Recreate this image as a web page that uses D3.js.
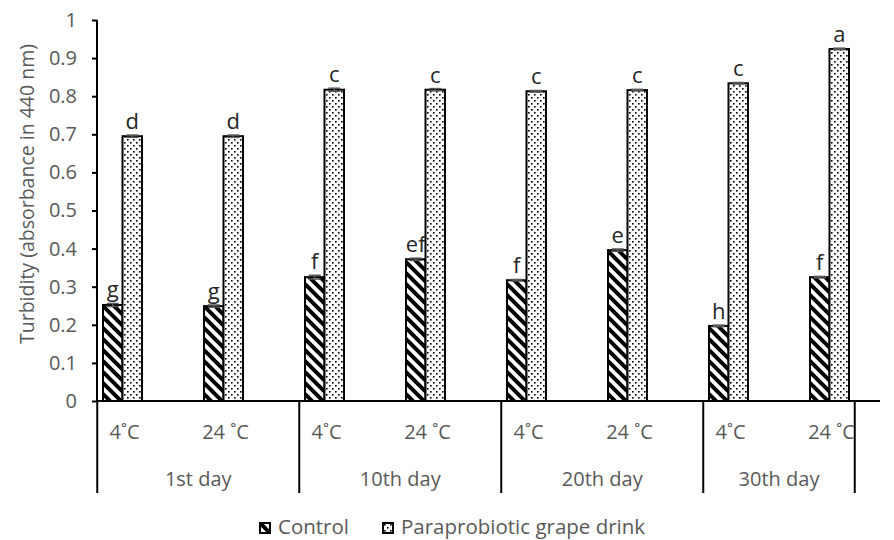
<!DOCTYPE html>
<html>
<head>
<meta charset="utf-8">
<script src="https://cdn.jsdelivr.net/npm/d3@7"></script>
<style>
  body { margin: 0; background: #fff; }
  text { font-family: "Open Sans", sans-serif; }
</style>
</head>
<body>
<div id="chart"></div>
<script>
// data
const days = ["1st day", "10th day", "20th day", "30th day"];
const temps = ["4˚C", "24 ˚C"];
const seriesNames = ["Control", "Paraprobiotic grape drink"];
const controlValues = [0.252, 0.249, 0.325, 0.372, 0.317, 0.396, 0.197, 0.325];
const controlErrors = [0.004, 0.003, 0.005, 0.003, 0.002, 0.003, 0.002, 0.002];
const controlLetters = ["g", "g", "f", "ef", "f", "e", "h", "f"];
const drinkValues = [0.695, 0.695, 0.817, 0.817, 0.813, 0.816, 0.834, 0.924];
const drinkErrors = [0.003, 0.003, 0.004, 0.003, 0.002, 0.002, 0.002, 0.002];
const drinkLetters = ["d", "d", "c", "c", "c", "c", "c", "a"];
const yTickValues = [0, 0.1, 0.2, 0.3, 0.4, 0.5, 0.6, 0.7, 0.8, 0.9, 1];
const yTickLabels = ["0", "0.1", "0.2", "0.3", "0.4", "0.5", "0.6", "0.7", "0.8", "0.9", "1"];

const width = 894, height = 540;
const textGray = "#595959";

// one row per day/temperature cell
const cells = [];
days.forEach((day, i) => {
  temps.forEach((temp, j) => {
    const k = i * 2 + j;
    cells.push({
      key: day + "|" + temp, day, temp,
      values: [
        { series: "control", value: controlValues[k], err: controlErrors[k], letter: controlLetters[k] },
        { series: "drink", value: drinkValues[k], err: drinkErrors[k], letter: drinkLetters[k] }
      ]
    });
  });
});

const svg = d3.select("#chart").append("svg")
  .attr("width", width)
  .attr("height", height);

const defs = svg.append("defs");

// wide diagonal hatch for control
const hatch = defs.append("pattern")
  .attr("id", "hatch")
  .attr("patternUnits", "userSpaceOnUse")
  .attr("width", 11).attr("height", 11);
hatch.append("rect").attr("width", 11).attr("height", 11).attr("fill", "#fff");
hatch.append("path")
  .attr("d", "M-2,-2 L13,13 M-3,8 L3,14 M8,-3 L14,3")
  .attr("stroke", "#000")
  .attr("stroke-width", 4);

// small dots for the drink
const dots = defs.append("pattern")
  .attr("id", "dots")
  .attr("patternUnits", "userSpaceOnUse")
  .attr("width", 6).attr("height", 6);
dots.append("rect").attr("width", 6).attr("height", 6).attr("fill", "#fff");
dots.append("rect").attr("x", 1).attr("y", 1).attr("width", 1.6).attr("height", 1.6).attr("fill", "#000");
dots.append("rect").attr("x", 4).attr("y", 4).attr("width", 1.6).attr("height", 1.6).attr("fill", "#000");

const fills = { control: "url(#hatch)", drink: "url(#dots)" };

// scales
const y = d3.scaleLinear().domain([0, 1]).range([401, 20]);

const x = d3.scaleBand()
  .domain(cells.map(d => d.key))
  .range([72, 880])
  .padding(0);
const step = x.step();

const x1 = d3.scaleBand()
  .domain(["control", "drink"])
  .range([0, step])
  .paddingInner(0)
  .paddingOuter(1.59);

// y axis
const yAxis = d3.axisLeft(y)
  .tickValues(yTickValues)
  .tickFormat((d, i) => yTickLabels[i])
  .tickSize(5)
  .tickPadding(15);

const gy = svg.append("g")
  .attr("transform", "translate(97,0)")
  .call(yAxis);
gy.select(".domain").remove();
gy.selectAll(".tick line").attr("stroke", "#000").attr("stroke-width", 2);
gy.selectAll(".tick text")
  .attr("fill", textGray)
  .style("font-size", "20px");

svg.append("text")
  .attr("transform", "translate(26,194) rotate(-90)")
  .attr("text-anchor", "middle")
  .attr("dominant-baseline", "central")
  .attr("fill", textGray)
  .style("font-size", "19.5px")
  .text("Turbidity (absorbance in 440 nm)");

// bars
const groups = svg.append("g").selectAll("g")
  .data(cells)
  .join("g")
  .attr("transform", d => `translate(${x(d.key)},0)`);

groups.selectAll("rect")
  .data(d => d.values)
  .join("rect")
  .attr("x", d => x1(d.series))
  .attr("y", d => y(d.value))
  .attr("width", x1.bandwidth())
  .attr("height", d => y(0) - y(d.value))
  .attr("fill", d => fills[d.series])
  .attr("stroke", "#000")
  .attr("stroke-width", 2);

// error bars
const eb = groups.selectAll("g.err")
  .data(d => d.values)
  .join("g")
  .attr("class", "err")
  .attr("stroke", textGray)
  .attr("stroke-width", 1.5);
eb.append("line")
  .attr("x1", d => x1(d.series) + x1.bandwidth() / 2)
  .attr("x2", d => x1(d.series) + x1.bandwidth() / 2)
  .attr("y1", d => y(d.value - d.err))
  .attr("y2", d => y(d.value + d.err));
eb.append("line")
  .attr("x1", d => x1(d.series) + x1.bandwidth() / 2 - 6)
  .attr("x2", d => x1(d.series) + x1.bandwidth() / 2 + 6)
  .attr("y1", d => y(d.value + d.err))
  .attr("y2", d => y(d.value + d.err));
eb.append("line")
  .attr("x1", d => x1(d.series) + x1.bandwidth() / 2 - 6)
  .attr("x2", d => x1(d.series) + x1.bandwidth() / 2 + 6)
  .attr("y1", d => y(d.value - d.err))
  .attr("y2", d => y(d.value - d.err));

// significance letters
groups.selectAll("text.letter")
  .data(d => d.values)
  .join("text")
  .attr("class", "letter")
  .attr("x", d => x1(d.series) + x1.bandwidth() / 2)
  .attr("y", d => y(d.value + d.err) - 6)
  .attr("text-anchor", "middle")
  .attr("fill", "#262626")
  .style("font-size", "22px")
  .text(d => d.letter);

// axis lines
svg.append("line")
  .attr("x1", 96).attr("x2", 880)
  .attr("y1", y(0)).attr("y2", y(0))
  .attr("stroke", "#000").attr("stroke-width", 2);
svg.append("line")
  .attr("x1", 97).attr("x2", 97)
  .attr("y1", y(1)).attr("y2", y(0))
  .attr("stroke", "#000").attr("stroke-width", 2);

// multi-level category labels
const seps = days.map(day => x(day + "|" + temps[0]) + step / 4);
seps.push(x(days[days.length - 1] + "|" + temps[1]) + step * 3 / 4);

svg.append("g").selectAll("line")
  .data(seps)
  .join("line")
  .attr("x1", d => d).attr("x2", d => d)
  .attr("y1", y(0)).attr("y2", 493)
  .attr("stroke", "#000").attr("stroke-width", 2);

defs.append("clipPath").attr("id", "labclip")
  .append("rect")
  .attr("x", 0).attr("y", 0)
  .attr("width", seps[seps.length - 1] - 1).attr("height", height);

svg.append("g")
  .attr("clip-path", "url(#labclip)")
  .selectAll("text")
  .data(cells)
  .join("text")
  .attr("x", d => x(d.key) + step / 2 + 2)
  .attr("y", 439)
  .attr("text-anchor", "middle")
  .attr("fill", textGray)
  .style("font-size", "20px")
  .text(d => d.temp);

svg.append("g").selectAll("text")
  .data(days)
  .join("text")
  .attr("x", (d, i) => (seps[i] + seps[i + 1]) / 2)
  .attr("y", 486)
  .attr("text-anchor", "middle")
  .attr("fill", textGray)
  .style("font-size", "20px")
  .text(d => d);

// legend
const legendX = [260, 383];
const legend = svg.append("g").selectAll("g")
  .data(["control", "drink"])
  .join("g")
  .attr("transform", (d, i) => `translate(${legendX[i]},523)`);
legend.append("rect")
  .attr("width", 10).attr("height", 10)
  .attr("fill", d => fills[d])
  .attr("stroke", "#000")
  .attr("stroke-width", 2);
legend.append("text")
  .attr("x", 18)
  .attr("y", 11)
  .attr("fill", textGray)
  .style("font-size", "20.5px")
  .text((d, i) => seriesNames[i]);
</script>
</body>
</html>
